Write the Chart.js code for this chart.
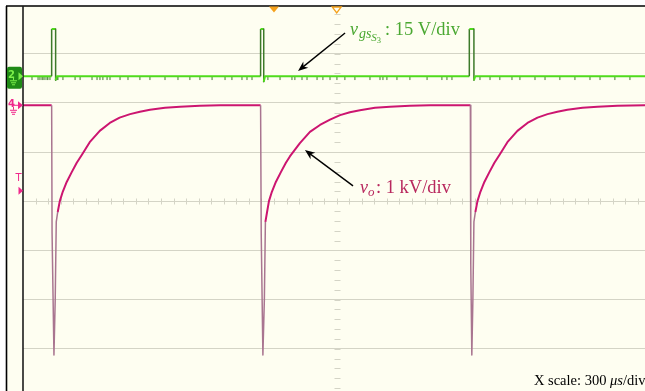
<!DOCTYPE html>
<html>
<head>
<meta charset="utf-8">
<title>Switching waveforms</title>
<script src="https://cdn.jsdelivr.net/npm/chart.js@4.4.1/dist/chart.umd.min.js"></script>
<style>
  html, body { margin: 0; padding: 0; background: #ffffff; }
  #box { width: 645px; height: 391px; }
</style>
</head>
<body>
<div id="box"><canvas id="scope" width="645" height="391"></canvas></div>
<script>
// Time in µs (300 µs per division); vertical position in screen divisions (0 = centre line)

// Channel 4: output voltage v_o (1 kV/div)
const voTime = [0, 137, 139, 148, 154, 159, 166, 176, 190, 209, 233, 257, 281, 319, 367, 415, 462, 512, 559, 607, 679, 751, 846, 942,
  1136, 1139, 1147, 1154, 1159, 1167, 1176, 1190, 1209, 1233, 1257, 1276, 1324, 1372, 1420, 1468, 1516, 1563, 1611, 1683, 1755, 1850, 1946,
  2139, 2141, 2146, 2151, 2156, 2163, 2173, 2187, 2206, 2230, 2254, 2278, 2316, 2364, 2412, 2460, 2508, 2555, 2603, 2675, 2747, 2842, 2974];
const voDiv = [1.95, 1.95, -0.65, -3.13, -2.01, -0.42, -0.22, 0.00, 0.19, 0.39, 0.59, 0.78, 0.94, 1.20, 1.43, 1.59, 1.70, 1.77, 1.82, 1.86, 1.90, 1.92, 1.94, 1.95,
  1.95, -0.65, -3.13, -2.01, -0.42, -0.22, 0.00, 0.19, 0.39, 0.59, 0.78, 0.91, 1.18, 1.41, 1.55, 1.66, 1.75, 1.81, 1.85, 1.90, 1.92, 1.94, 1.95,
  1.95, -1.30, -3.13, -2.01, -0.42, -0.22, 0.00, 0.19, 0.39, 0.59, 0.78, 0.94, 1.20, 1.43, 1.59, 1.70, 1.77, 1.82, 1.86, 1.90, 1.92, 1.94, 1.95];

// Channel 2: gate-source voltage v_gs of S3 (15 V/div)
const vgsTime = [0, 137, 137, 156, 156, 162, 1136, 1136, 1151, 1151, 1157, 2134, 2134, 2156, 2156, 2162, 2974];
const vgsDiv = [2.54, 2.54, 3.50, 3.50, 2.46, 2.54, 2.54, 3.50, 3.50, 2.43, 2.54, 2.54, 3.50, 3.50, 2.46, 2.54, 2.54];

// Short dips on the gate trace baseline
const vgsNoiseTime = [43, 72, 81, 91, 96, 105, 115, 119, 129, 163, 167, 191, 249, 273, 330, 354, 368, 382, 402, 416,
  464, 502, 559, 607, 679, 741, 798, 846, 904, 966, 999,
  1047, 1071, 1095, 1171, 1229, 1286, 1300, 1334, 1358, 1406, 1434, 1468, 1501, 1539, 1587, 1659, 1707, 1721, 1740,
  1788, 1850, 1932, 2003, 2027, 2051,
  2185, 2233, 2280, 2338, 2376, 2448, 2496, 2567, 2639, 2711, 2759, 2830, 2902];
const vgsNoiseDiv = vgsNoiseTime.map(() => 2.50);

// Reference markers
const ch2GroundDiv = 2.54;
const ch4GroundDiv = 1.95;
const trigLevelDiv = 0.21;
const trigTimeUs = 1200;
const centreTimeUs = 1500;

const SCREEN_BG = '#fefef1';
const GRID = '#d4d4c6';
const PINK = '#cc1570';
const PINK_EDGE = '#a97590';
const PINK_MARK = '#f0288c';
const GREEN = '#4fdc1c';
const GREEN_EDGE = '#3d7a2a';
const GREEN_LABEL = '#4aa832';
const VO_LABEL = '#b8285e';
const ORANGE = '#f5a01a';
const SERIF = '"Liberation Serif", "DejaVu Serif", serif';

const pts = (xs, ys) => xs.map((x, i) => ({ x: x, y: ys[i] }));
const steep = c => Math.abs(c.p1.y - c.p0.y) > 6 * Math.abs(c.p1.x - c.p0.x) + 1;
const onGrid = (v, step) => Math.abs(v / step - Math.round(v / step)) < 1e-6;

function drawParts(ctx, x, y, parts, color) {
  ctx.fillStyle = color;
  ctx.textBaseline = 'alphabetic';
  ctx.textAlign = 'left';
  for (const p of parts) {
    ctx.font = (p.it ? 'italic ' : '') + p.size + 'px ' + SERIF;
    x += p.gap || 0;
    ctx.fillText(p.t, x, y + (p.dy || 0));
    x += ctx.measureText(p.t).width;
  }
}

function arrow(ctx, x0, y0, x1, y1) {
  const ang = Math.atan2(y1 - y0, x1 - x0);
  const len = Math.hypot(x1 - x0, y1 - y0);
  ctx.save();
  ctx.translate(x1, y1);
  ctx.rotate(ang);
  ctx.strokeStyle = '#000';
  ctx.fillStyle = '#000';
  ctx.lineWidth = 1.4;
  ctx.beginPath();
  ctx.moveTo(-len, 0);
  ctx.lineTo(-6, 0);
  ctx.stroke();
  ctx.beginPath();
  ctx.moveTo(0, 0);
  ctx.lineTo(-10, -4);
  ctx.lineTo(-7, 0);
  ctx.lineTo(-10, 4);
  ctx.closePath();
  ctx.fill();
  ctx.restore();
}

function ground(ctx, cx, top, color) {
  ctx.strokeStyle = color;
  ctx.lineWidth = 1;
  ctx.beginPath();
  ctx.moveTo(cx + 0.5, top); ctx.lineTo(cx + 0.5, top + 3);
  ctx.moveTo(cx - 3, top + 3.5); ctx.lineTo(cx + 4, top + 3.5);
  ctx.moveTo(cx - 2, top + 5.5); ctx.lineTo(cx + 3, top + 5.5);
  ctx.moveTo(cx - 1, top + 7.5); ctx.lineTo(cx + 2, top + 7.5);
  ctx.stroke();
}

function rightTri(ctx, tipX, tipY, w, h, color) {
  ctx.fillStyle = color;
  ctx.beginPath();
  ctx.moveTo(tipX, tipY);
  ctx.lineTo(tipX - w, tipY - h);
  ctx.lineTo(tipX - w, tipY + h);
  ctx.closePath();
  ctx.fill();
}

const scopeDecor = {
  id: 'scopeDecor',
  beforeDraw(chart) {
    const { ctx, width, height } = chart;
    ctx.save();
    ctx.fillStyle = '#ffffff';
    ctx.fillRect(0, 0, width, height);
    ctx.fillStyle = SCREEN_BG;
    ctx.fillRect(6, 6, width - 6, height - 6);
    ctx.restore();
  },
  beforeDatasetsDraw(chart) {
    const { ctx, scales: { x, y } } = chart;
    const cx = Math.round(x.getPixelForValue(centreTimeUs)) + 0.5;
    const cy = Math.round(y.getPixelForValue(0)) + 0.5;
    ctx.save();
    ctx.strokeStyle = GRID;
    ctx.lineWidth = 1;
    ctx.beginPath();
    for (let k = 1; k * 60 <= x.max; k++) {
      const px = Math.round(x.getPixelForValue(k * 60)) + 0.5;
      ctx.moveTo(px, cy - 3); ctx.lineTo(px, cy + 3);
    }
    for (let k = -19; k <= 19; k++) {
      const py = Math.round(y.getPixelForValue(k * 0.2)) + 0.5;
      ctx.moveTo(cx - 3, py); ctx.lineTo(cx + 3, py);
    }
    ctx.stroke();
    ctx.restore();
  },
  afterDatasetsDraw(chart) {
    const { ctx, width, height, chartArea: a, scales: { x, y } } = chart;
    ctx.save();

    // frame
    ctx.strokeStyle = '#000';
    ctx.lineWidth = 1.6;
    ctx.beginPath();
    ctx.moveTo(6.5, 6); ctx.lineTo(6.5, height);
    ctx.moveTo(6, 6); ctx.lineTo(width, 6);
    ctx.stroke();
    ctx.strokeStyle = '#1c1c1c';
    ctx.lineWidth = 1.6;
    ctx.beginPath();
    ctx.moveTo(a.left, 6); ctx.lineTo(a.left, height);
    ctx.stroke();

    // time markers on top edge
    const tx = x.getPixelForValue(trigTimeUs);
    ctx.fillStyle = ORANGE;
    ctx.beginPath();
    ctx.moveTo(tx - 5, 6.5); ctx.lineTo(tx + 5, 6.5); ctx.lineTo(tx, 12.5); ctx.closePath();
    ctx.fill();
    const hx = x.getPixelForValue(centreTimeUs);
    ctx.strokeStyle = ORANGE;
    ctx.lineWidth = 1.3;
    ctx.beginPath();
    ctx.moveTo(hx - 4.5, 7); ctx.lineTo(hx + 4.5, 7); ctx.lineTo(hx, 13); ctx.closePath();
    ctx.stroke();

    // channel 2 ground marker
    const g2 = y.getPixelForValue(ch2GroundDiv);
    ctx.fillStyle = '#1f8a16';
    ctx.beginPath();
    ctx.roundRect(7, g2 - 9.5, 15, 22, 2);
    ctx.fill();
    ctx.fillStyle = '#7cf04a';
    ctx.font = 'bold 10px "DejaVu Sans", sans-serif';
    ctx.textBaseline = 'alphabetic';
    ctx.fillText('2', 8, g2 + 1.5);
    rightTri(ctx, 23, g2, 4.5, 4, '#7cf04a');
    ground(ctx, 13, g2 + 1, '#7cf04a');

    // channel 4 ground marker
    const g4 = y.getPixelForValue(ch4GroundDiv);
    ctx.fillStyle = PINK_MARK;
    ctx.font = 'bold 10px "DejaVu Sans", sans-serif';
    ctx.fillText('4', 8, g4 + 1.5);
    ctx.fillRect(13, g4 - 0.5, 5, 1);
    rightTri(ctx, 23, g4, 5, 4, PINK_MARK);
    ground(ctx, 13, g4 + 1.5, PINK_MARK);

    // trigger level marker
    const tl = y.getPixelForValue(trigLevelDiv);
    ctx.fillStyle = PINK_MARK;
    ctx.font = '10px "DejaVu Sans", sans-serif';
    ctx.fillText('T', 15.5, tl - 10);
    rightTri(ctx, 23, tl, 4.5, 4, PINK_MARK);

    // labels and arrows
    drawParts(ctx, x.getPixelForValue(1563), y.getPixelForValue(3.38), [
      { t: 'v', it: 1, size: 18 },
      { t: 'gs', it: 1, size: 14, dy: 3.5, gap: 1 },
      { t: 'S', it: 1, size: 11, dy: 6.5 },
      { t: '3', size: 8.5, dy: 8.5 },
      { t: ':', size: 18, gap: 4 },
      { t: ' 15 V/div', size: 18.5 }
    ], GREEN_LABEL);
    arrow(ctx, x.getPixelForValue(1540), y.getPixelForValue(3.42), x.getPixelForValue(1315), y.getPixelForValue(2.65));

    drawParts(ctx, x.getPixelForValue(1611), y.getPixelForValue(0.167), [
      { t: 'v', it: 1, size: 18 },
      { t: 'o', it: 1, size: 13, dy: 3 },
      { t: ': 1 kV/div', size: 18.5, gap: 1.5 }
    ], VO_LABEL);
    arrow(ctx, x.getPixelForValue(1578), y.getPixelForValue(0.31), x.getPixelForValue(1348), y.getPixelForValue(1.04));

    drawParts(ctx, x.getPixelForValue(2443), y.getPixelForValue(-3.74), [
      { t: 'X scale: 300 ', size: 14.5 },
      { t: 'μs', it: 1, size: 14.5 },
      { t: '/div', size: 14.5 }
    ], '#000000');

    ctx.restore();
  }
};

new Chart(document.getElementById('scope'), {
  type: 'line',
  data: {
    datasets: [
      {
        label: 'v_o',
        data: pts(voTime, voDiv),
        borderColor: PINK,
        borderWidth: 2,
        borderJoinStyle: 'round',
        pointRadius: 0,
        tension: 0,
        segment: {
          borderColor: c => steep(c) ? PINK_EDGE : PINK,
          borderWidth: c => steep(c) ? 1.5 : 2
        }
      },
      {
        label: 'v_gs',
        data: pts(vgsTime, vgsDiv),
        borderColor: GREEN,
        borderWidth: 2,
        borderJoinStyle: 'round',
        pointRadius: 0,
        tension: 0,
        segment: {
          borderColor: c => steep(c) ? GREEN_EDGE : GREEN,
          borderWidth: c => steep(c) ? 1.5 : 2
        }
      },
      {
        type: 'scatter',
        label: 'v_gs dips',
        data: pts(vgsNoiseTime, vgsNoiseDiv),
        showLine: false,
        pointStyle: 'line',
        rotation: 90,
        pointRadius: 1.8,
        borderColor: GREEN_EDGE,
        borderWidth: 1
      }
    ]
  },
  options: {
    responsive: false,
    devicePixelRatio: 1,
    animation: false,
    events: [],
    layout: { autoPadding: false, padding: { left: 23, top: 4.5, right: 0, bottom: 0 } },
    plugins: { legend: { display: false }, tooltip: { enabled: false } },
    scales: {
      x: {
        type: 'linear',
        min: 0,
        max: 2974,
        ticks: { display: false, stepSize: 300 },
        grid: {
          drawTicks: false,
          lineWidth: 1,
          color: c => (c.tick && c.tick.value > 0 && onGrid(c.tick.value, 300)) ? GRID : 'rgba(0,0,0,0)'
        },
        border: { display: false }
      },
      y: {
        type: 'linear',
        min: -3.861,
        max: 4,
        ticks: { display: false, stepSize: 1 },
        grid: {
          drawTicks: false,
          lineWidth: 1,
          color: c => (c.tick && c.tick.value < 4 && onGrid(c.tick.value, 1)) ? GRID : 'rgba(0,0,0,0)'
        },
        border: { display: false }
      }
    }
  },
  plugins: [scopeDecor]
});
</script>
</body>
</html>
